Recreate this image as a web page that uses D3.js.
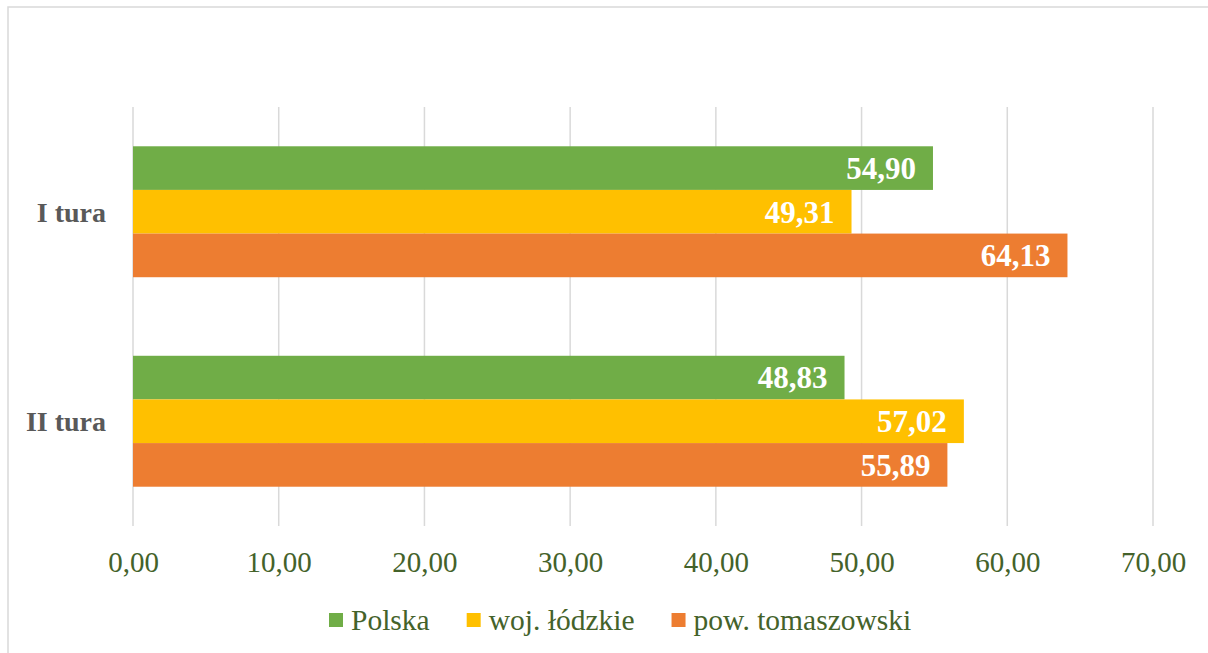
<!DOCTYPE html>
<html>
<head>
<meta charset="utf-8">
<script src="https://cdn.jsdelivr.net/npm/d3@7"></script>
<style>
  body { margin: 0; background: #fff; }
  svg { display: block; }
</style>
</head>
<body>
<div id="chart"></div>
<script>
  'use strict';

  var categories = ['I tura', 'II tura'];
  var seriesNames = ['Polska', 'woj. łódzkie', 'pow. tomaszowski'];
  var seriesColors = ['#70AD47', '#FFC000', '#ED7D31'];
  var polska = [54.90, 48.83];
  var wojLodzkie = [49.31, 57.02];
  var powTomaszowski = [64.13, 55.89];
  var xTicks = [0, 10, 20, 30, 40, 50, 60, 70];

  var values = [polska, wojLodzkie, powTomaszowski];

  var W = 1208, H = 653;
  var PLOT = { left: 133, right: 1153, top: 107, bottom: 526 };
  var SERIF = '"Liberation Serif", "DejaVu Serif", serif';

  var fmt = function (v) { return d3.format('.2f')(v).replace('.', ','); };

  var svg = d3.select('#chart').append('svg')
    .attr('width', W)
    .attr('height', H);

  // chart border
  svg.append('rect')
    .attr('x', 8).attr('y', 7)
    .attr('width', W + 10).attr('height', H + 10)
    .attr('fill', 'none')
    .attr('stroke', '#d9d9d9')
    .attr('stroke-width', 1.5);

  var x = d3.scaleLinear().domain([0, 70]).range([PLOT.left, PLOT.right]);
  var y0 = d3.scaleBand().domain(categories)
    .range([PLOT.top, PLOT.bottom])
    .paddingInner(0.375)
    .paddingOuter(0.1875);
  var y1 = d3.scaleBand().domain(d3.range(seriesNames.length))
    .range([0, y0.bandwidth()]);

  // gridlines
  svg.append('g').selectAll('line')
    .data(xTicks)
    .join('line')
    .attr('x1', function (d) { return x(d); })
    .attr('x2', function (d) { return x(d); })
    .attr('y1', PLOT.top)
    .attr('y2', PLOT.bottom)
    .attr('stroke', '#d9d9d9')
    .attr('stroke-width', 1.5);

  // x axis labels
  var xAxis = d3.axisBottom(x).tickValues(xTicks).tickFormat(fmt).tickSize(0).tickPadding(0);
  var gx = svg.append('g')
    .attr('transform', 'translate(0,' + 551 + ')')
    .call(xAxis);
  gx.select('.domain').remove();
  gx.selectAll('text')
    .attr('dy', '0.71em')
    .style('font-family', SERIF)
    .style('font-size', '29px')
    .attr('fill', '#44622A');

  // bars
  var groups = svg.append('g').selectAll('g')
    .data(categories)
    .join('g')
    .attr('transform', function (d) { return 'translate(0,' + y0(d) + ')'; });

  groups.selectAll('rect')
    .data(function (d, i) {
      return values.map(function (s, k) { return { k: k, v: s[i] }; });
    })
    .join('rect')
    .attr('x', x(0))
    .attr('y', function (d) { return y1(d.k); })
    .attr('width', function (d) { return x(d.v) - x(0); })
    .attr('height', y1.bandwidth())
    .attr('fill', function (d) { return seriesColors[d.k]; });

  groups.selectAll('text.val')
    .data(function (d, i) {
      return values.map(function (s, k) { return { k: k, v: s[i] }; });
    })
    .join('text')
    .attr('class', 'val')
    .attr('x', function (d) { return x(d.v) - 17; })
    .attr('y', function (d) { return y1(d.k) + y1.bandwidth() / 2; })
    .attr('dy', '0.35em')
    .attr('text-anchor', 'end')
    .style('font-family', SERIF)
    .style('font-size', '31px')
    .style('font-weight', 'bold')
    .attr('fill', '#fff')
    .text(function (d) { return fmt(d.v); });

  // category labels
  svg.append('g').selectAll('text')
    .data(categories)
    .join('text')
    .attr('x', PLOT.left - 27)
    .attr('y', function (d) { return y0(d) + y0.bandwidth() / 2; })
    .attr('dy', '0.35em')
    .attr('text-anchor', 'end')
    .style('font-family', SERIF)
    .style('font-size', '28px')
    .style('font-weight', 'bold')
    .attr('fill', '#595959')
    .text(function (d) { return d; });

  // legend
  var legend = svg.append('g').attr('transform', 'translate(329,620)');
  var lx = 0;
  seriesNames.forEach(function (name, k) {
    var item = legend.append('g').attr('transform', 'translate(' + lx + ',0)');
    item.append('rect')
      .attr('x', 0).attr('y', -7)
      .attr('width', 14).attr('height', 14)
      .attr('fill', seriesColors[k]);
    var t = item.append('text')
      .attr('x', 22)
      .attr('dy', '0.35em')
      .style('font-family', SERIF)
      .style('font-size', '29.5px')
      .attr('fill', '#44622A')
      .text(name);
    lx += 22 + t.node().getComputedTextLength() + 37;
  });
</script>
</body>
</html>
